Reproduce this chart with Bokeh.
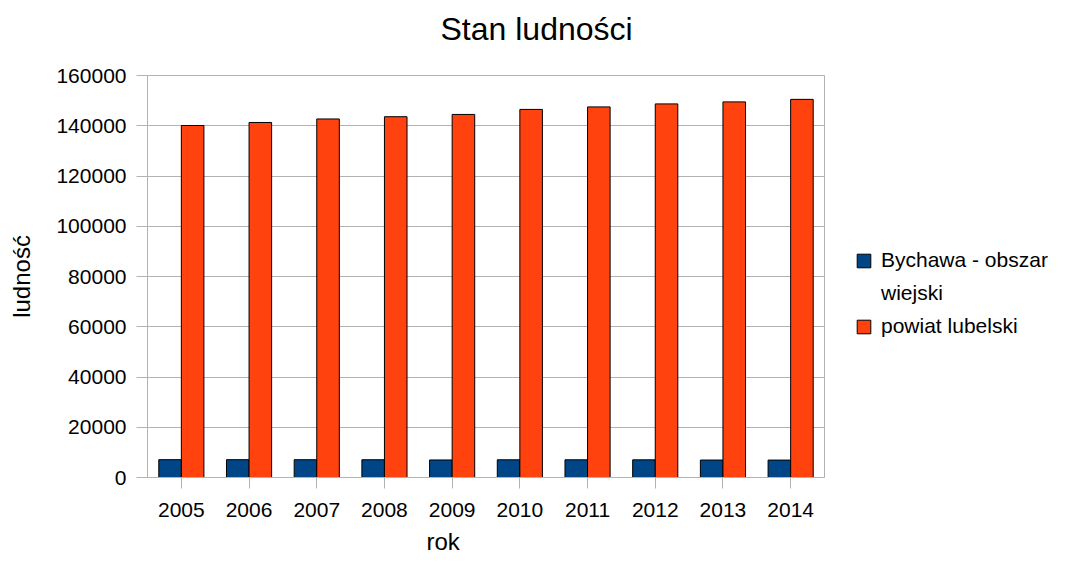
from bokeh.plotting import figure
from bokeh.models import (ColumnDataSource, FactorRange, FixedTicker, BasicTickFormatter,
                          Legend, LegendItem, Title, Range1d)
from bokeh.transform import dodge
from bokeh.embed import file_html
from bokeh.resources import INLINE

years = ["2005", "2006", "2007", "2008", "2009", "2010", "2011", "2012", "2013", "2014"]
bychawa = [7100, 7090, 7080, 7070, 6980, 7050, 7050, 7030, 6950, 6930]
powiat = [140100, 141300, 142700, 143600, 144500, 146500, 147500, 148700, 149500, 150500]
legend_lines = ["Bychawa - obszar", "wiejski", "powiat lubelski"]
y_ticks = [0, 20000, 40000, 60000, 80000, 100000, 120000, 140000, 160000]

FONT = "Liberation Sans"
GRID = "#b3b3b3"

src = ColumnDataSource(dict(year=years, bychawa=bychawa, powiat=powiat))

p = figure(x_range=FactorRange(*years), y_range=Range1d(0, 160000),
           frame_width=677, frame_height=402,
           min_border_left=147, min_border_right=242, min_border_top=75, min_border_bottom=85,
           output_backend="svg", toolbar_location=None, title=None)

r1 = p.vbar(x=dodge("year", -1/6, range=p.x_range), top="bychawa", width=1/3, source=src,
            fill_color="#004586", line_color="black", line_width=1)
r2 = p.vbar(x=dodge("year", 1/6, range=p.x_range), top="powiat", width=1/3, source=src,
            fill_color="#ff420e", line_color="black", line_width=1)
# invisible renderer used only for the second (wrapped) legend line
r_blank = p.vbar(x=[], top=[], width=1/3, fill_alpha=0, line_alpha=0)

p.background_fill_color = "white"
p.border_fill_color = "white"
p.outline_line_color = GRID
p.outline_line_width = 1

p.xgrid.grid_line_color = None
p.ygrid.grid_line_color = GRID
p.ygrid.ticker = FixedTicker(ticks=y_ticks)

p.yaxis.ticker = FixedTicker(ticks=y_ticks)
p.yaxis.formatter = BasicTickFormatter(use_scientific=False)
for ax in (p.xaxis, p.yaxis):
    ax.axis_line_color = GRID
    ax.major_tick_line_color = GRID
    ax.major_tick_in = 0
    ax.major_tick_out = 11
    ax.minor_tick_line_color = None
    ax.major_label_text_font = FONT
    ax.major_label_text_font_size = "21px"
    ax.major_label_text_color = "black"
p.xaxis.major_label_standoff = 14
p.yaxis.major_label_standoff = 10

p.yaxis.axis_label = "ludność"
p.yaxis.axis_label_text_font = FONT
p.yaxis.axis_label_text_font_size = "24px"
p.yaxis.axis_label_text_font_style = "normal"
p.yaxis.axis_label_text_color = "black"
p.yaxis.axis_label_standoff = 18

# spacer between frame and title, then the title itself
p.add_layout(Title(text=" ", text_font=FONT, text_font_size="20px", standoff=3), "above")
p.add_layout(Title(text="Stan ludności", text_font=FONT, text_font_size="32px",
                   text_font_style="normal", text_color="black", align="left", offset=293,
                   vertical_align="top", standoff=0), "above")

# spacer between x axis and its label, then the label
p.add_layout(Title(text=" ", text_font=FONT, text_font_size="6px", standoff=0), "below")
p.add_layout(Title(text="rok", text_font=FONT, text_font_size="24px",
                   text_font_style="normal", text_color="black", align="left", offset=279,
                   vertical_align="top", standoff=0), "below")

legend = Legend(items=[LegendItem(label=legend_lines[0], renderers=[r1]),
                       LegendItem(label=legend_lines[1], renderers=[r_blank]),
                       LegendItem(label=legend_lines[2], renderers=[r2])],
                location=(31, 139), padding=0, margin=0, border_line_color=None,
                background_fill_alpha=0, glyph_width=17, glyph_height=17,
                label_standoff=9, spacing=9, label_height=24,
                label_text_font=FONT, label_text_font_size="21px", label_text_color="black")
p.add_layout(legend, "right")

open("out.html", "w").write(file_html(p, INLINE))
